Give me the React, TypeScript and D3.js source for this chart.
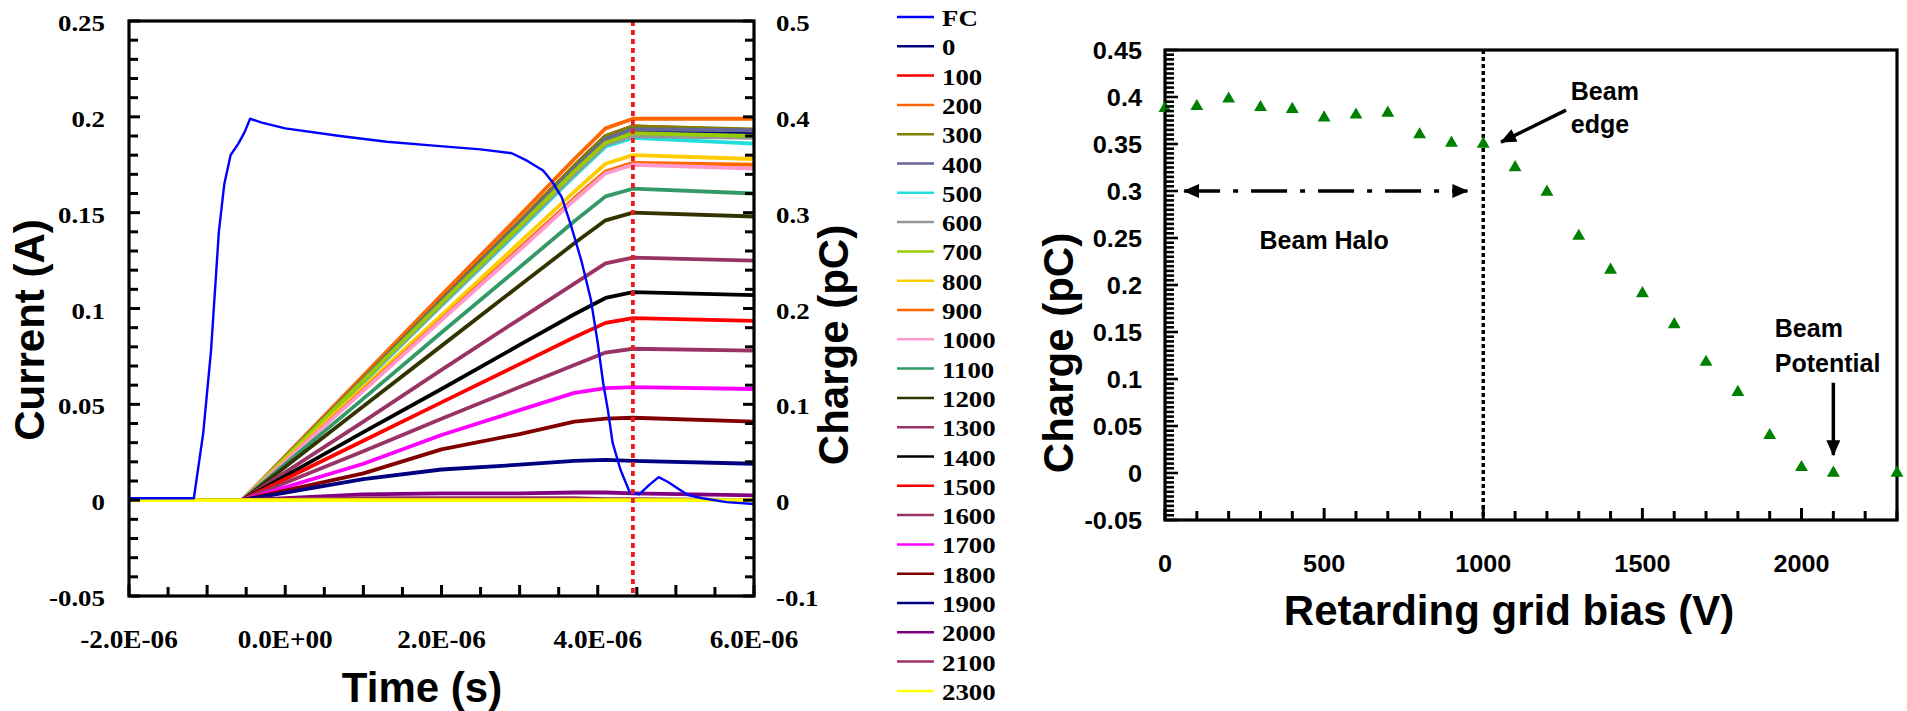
import React from "react";
import * as d3 from "d3";

const SERIF = "'Liberation Serif', 'Times New Roman', serif";
const SANS = "'Liberation Sans', Arial, sans-serif";

// ---------------- Left chart data (time in microseconds) ----------------
const fcTimeUs = [-2.0, -1.17, -1.05, -0.95, -0.85, -0.78, -0.7, -0.6, -0.52, -0.45, -0.3, 0.0, 0.7, 1.3, 1.9, 2.5, 2.9, 3.1, 3.3, 3.42, 3.54, 3.66, 3.79, 3.91, 4.0, 4.07, 4.13, 4.19, 4.29, 4.41, 4.53, 4.66, 4.78, 4.9, 5.03, 5.16, 5.34, 5.65, 6.0];
const fcCurrentA = [0.001, 0.001, 0.035, 0.078, 0.14, 0.165, 0.18, 0.186, 0.192, 0.199, 0.197, 0.194, 0.19, 0.187, 0.185, 0.183, 0.181, 0.177, 0.172, 0.166, 0.158, 0.143, 0.125, 0.105, 0.082, 0.061, 0.047, 0.03, 0.016, 0.004, 0.003, 0.008, 0.012, 0.0095, 0.006, 0.0026, 0.001, -0.001, -0.002];
const fcColor = "#0000ff";

const chargeTimeUs = [-2.0, -0.55, 1.0, 2.0, 3.0, 3.7, 4.1, 4.45, 6.0];
const seriesNames = ["0", "100", "200", "300", "400", "500", "600", "700", "800", "900", "1000", "1100", "1200", "1300", "1400", "1500", "1600", "1700", "1800", "1900", "2000", "2100", "2300"];
const seriesColors = ["#000080", "#ff0000", "#ff6600", "#808000", "#666699", "#22dddd", "#969696", "#99cc00", "#ffcc00", "#ff6600", "#ff99cc", "#339966", "#333300", "#993366", "#000000", "#ff0000", "#993366", "#ff00ff", "#800000", "#000080", "#800080", "#993366", "#ffff00"];
const chargePC: number[][] = [
  [0, 0, 0.126, 0.207, 0.288, 0.345, 0.376, 0.385, 0.382],
  [0, 0, 0.127, 0.209, 0.291, 0.349, 0.38, 0.39, 0.386],
  [0, 0, 0.13, 0.214, 0.297, 0.356, 0.388, 0.398, 0.398],
  [0, 0, 0.127, 0.209, 0.291, 0.349, 0.38, 0.39, 0.387],
  [0, 0, 0.126, 0.208, 0.289, 0.346, 0.377, 0.387, 0.386],
  [0, 0, 0.123, 0.203, 0.282, 0.338, 0.369, 0.378, 0.372],
  [0, 0, 0.124, 0.204, 0.284, 0.34, 0.371, 0.38, 0.378],
  [0, 0, 0.125, 0.206, 0.286, 0.343, 0.373, 0.383, 0.38],
  [0, 0, 0.118, 0.193, 0.269, 0.322, 0.351, 0.36, 0.356],
  [0, 0, 0.115, 0.189, 0.263, 0.315, 0.343, 0.352, 0.35],
  [0, 0, 0.114, 0.188, 0.261, 0.313, 0.341, 0.35, 0.346],
  [0, 0, 0.106, 0.175, 0.243, 0.291, 0.317, 0.325, 0.32],
  [0, 0, 0.098, 0.161, 0.224, 0.268, 0.292, 0.3, 0.296],
  [0, 0, 0.082, 0.136, 0.189, 0.226, 0.247, 0.253, 0.25],
  [0, 0, 0.071, 0.116, 0.162, 0.194, 0.211, 0.217, 0.214],
  [0, 0, 0.062, 0.102, 0.142, 0.17, 0.185, 0.19, 0.187],
  [0, 0, 0.051, 0.085, 0.118, 0.141, 0.154, 0.158, 0.156],
  [0, 0, 0.038, 0.068, 0.094, 0.112, 0.117, 0.118, 0.116],
  [0, 0, 0.028, 0.053, 0.069, 0.082, 0.085, 0.086, 0.082],
  [0, 0, 0.022, 0.032, 0.037, 0.041, 0.042, 0.041, 0.038],
  [0, 0, 0.006, 0.007, 0.007, 0.008, 0.008, 0.007, 0.005],
  [0, 0, 0.002, 0.002, 0.002, 0.002, 0.001, 0.001, 0],
  [0, 0, 0, 0, 0, 0, 0, 0, 0],
];
const markerTimeUs = 4.45;

const currentTickVals = [-0.05, 0, 0.05, 0.1, 0.15, 0.2, 0.25];
const currentTickLabels = ["-0.05", "0", "0.05", "0.1", "0.15", "0.2", "0.25"];
const chargeTickVals = [-0.1, 0, 0.1, 0.2, 0.3, 0.4, 0.5];
const chargeTickLabels = ["-0.1", "0", "0.1", "0.2", "0.3", "0.4", "0.5"];
const timeTickVals = [-2, 0, 2, 4, 6];
const timeTickLabels = ["-2.0E-06", "0.0E+00", "2.0E-06", "4.0E-06", "6.0E-06"];
const currentMinorTicks = d3.range(0, 31).map((i) => -0.05 + i * 0.01);
const timeMinorTicks = d3.range(0, 17).map((i) => -2 + i * 0.5);

// ---------------- Right chart data ----------------
const biasV = [0, 100, 200, 300, 400, 500, 600, 700, 800, 900, 1000, 1100, 1200, 1300, 1400, 1500, 1600, 1700, 1800, 1900, 2000, 2100, 2300];
const chargeAtEdge = [0.388, 0.39, 0.398, 0.389, 0.387, 0.378, 0.381, 0.383, 0.36, 0.351, 0.35, 0.325, 0.299, 0.252, 0.216, 0.191, 0.158, 0.118, 0.086, 0.04, 0.006, 0, 0];
const biasTickVals = [0, 500, 1000, 1500, 2000];
const biasTickLabels = ["0", "500", "1000", "1500", "2000"];
const rChargeTickVals = [-0.05, 0, 0.05, 0.1, 0.15, 0.2, 0.25, 0.3, 0.35, 0.4, 0.45];
const rChargeTickLabels = ["-0.05", "0", "0.05", "0.1", "0.15", "0.2", "0.25", "0.3", "0.35", "0.4", "0.45"];
const rChargeMinorTicks = d3.range(0, 101).map((i) => -0.05 + i * 0.005);
const biasMinorTicks = d3.range(0, 24).map((i) => i * 100);

function SText(props: any) {
  const { x, y, sx = 1, anchor = "start", size, family, weight = "bold", baseline = "central", rotate = 0, children } = props;
  return (
    <text
      transform={`translate(${x},${y}) rotate(${rotate}) scale(${sx},1)`}
      textAnchor={anchor}
      dominantBaseline={baseline}
      fontSize={size}
      fontFamily={family}
      fontWeight={weight}
      fill="#000"
    >
      {children}
    </text>
  );
}

export default function App() {
  const W = 1907, H = 711;
  const L = { left: 129, right: 754, top: 21, bottom: 596 };
  const xT = d3.scaleLinear().domain([-2, 6]).range([L.left, L.right]);
  const yI = d3.scaleLinear().domain([-0.05, 0.25]).range([L.bottom, L.top]);
  const yQ = d3.scaleLinear().domain([-0.1, 0.5]).range([L.bottom, L.top]);

  const R = { left: 1165, right: 1897, top: 50, bottom: 520 };
  const xV = d3.scaleLinear().domain([0, 2300]).range([R.left, R.right]);
  const yC = d3.scaleLinear().domain([-0.05, 0.45]).range([R.bottom, R.top]);

  const fcLine = d3.line<number>().x((_, i) => xT(fcTimeUs[i])).y((d) => yI(d));
  const qLine = d3.line<number>().x((_, i) => xT(chargeTimeUs[i])).y((d) => yQ(d));

  const tri = d3.symbol().type(d3.symbolTriangle).size(72)();

  const legendNames = ["FC", ...seriesNames];
  const legendColors = [fcColor, ...seriesColors];

  return (
    <svg width={W} height={H} style={{ position: "absolute", left: 0, top: 0, background: "#fff" }}>
      <defs>
        <clipPath id="clipL">
          <rect x={L.left} y={L.top} width={L.right - L.left} height={L.bottom - L.top} />
        </clipPath>
        <marker id="ah" markerUnits="userSpaceOnUse" markerWidth={16} markerHeight={14} refX={15} refY={7} orient="auto-start-reverse">
          <path d="M0,0 L16,7 L0,14 Z" fill="#000" />
        </marker>
      </defs>

      {/* ================= LEFT CHART ================= */}
      <g clipPath="url(#clipL)">
        {chargePC.map((vals, si) => (
          <path key={si} d={qLine(vals) || ""} fill="none" stroke={seriesColors[si]} strokeWidth={3.8} strokeLinejoin="round" />
        ))}
        <path d={fcLine(fcCurrentA) || ""} fill="none" stroke={fcColor} strokeWidth={2.4} strokeLinejoin="round" />
      </g>
      <line x1={xT(markerTimeUs)} x2={xT(markerTimeUs)} y1={L.top} y2={L.bottom} stroke="#ee1c1c" strokeWidth={3.8} strokeDasharray="5,4" />

      <rect x={L.left} y={L.top} width={L.right - L.left} height={L.bottom - L.top} fill="none" stroke="#000" strokeWidth={3.2} />

      {currentTickVals.map((v, i) => (
        <SText key={"cl" + i} x={105} y={yI(v) + 2} anchor="end" size={24} family={SERIF} sx={1.12}>{currentTickLabels[i]}</SText>
      ))}
      {chargeTickVals.map((v, i) => (
        <SText key={"ql" + i} x={776} y={yQ(v) + 2} anchor="start" size={24} family={SERIF} sx={1.12}>{chargeTickLabels[i]}</SText>
      ))}
      {timeTickVals.map((v, i) => (
        <SText key={"tl" + i} x={xT(v)} y={640} anchor="middle" size={25} family={SERIF} sx={1.09}>{timeTickLabels[i]}</SText>
      ))}

      <SText x={44} y={330} rotate={-90} anchor="middle" baseline="alphabetic" size={42} family={SANS}>Current (A)</SText>
      <SText x={848} y={345} rotate={-90} anchor="middle" baseline="alphabetic" size={42} family={SANS}>Charge (pC)</SText>
      <SText x={422} y={702} anchor="middle" baseline="alphabetic" size={42} family={SANS}>Time (s)</SText>

      {/* legend */}
      {legendNames.map((n, i) => {
        const y = 17 + i * 29.3;
        return (
          <g key={"lg" + i}>
            <line x1={897} x2={934} y1={y} y2={y} stroke={legendColors[i]} strokeWidth={2.5} />
            <SText x={942} y={y + 1} size={24} family={SERIF} sx={1.12}>{n}</SText>
          </g>
        );
      })}

      {/* ================= RIGHT CHART ================= */}
      <rect x={R.left} y={R.top} width={R.right - R.left} height={R.bottom - R.top} fill="none" stroke="#000" strokeWidth={3.2} />
      <line x1={xV(1000)} x2={xV(1000)} y1={R.top} y2={R.bottom} stroke="#000" strokeWidth={3.5} strokeDasharray="4,3" />

      {rChargeTickVals.map((v, i) => (
        <SText key={"rcl" + i} x={1142} y={yC(v) + 1} anchor="end" size={23} family={SANS} sx={1.1}>{rChargeTickLabels[i]}</SText>
      ))}
      {biasTickVals.map((v, i) => (
        <SText key={"bl" + i} x={xV(v)} y={564} anchor="middle" size={24} family={SANS} sx={1.05}>{biasTickLabels[i]}</SText>
      ))}
      <SText x={1073} y={353} rotate={-90} anchor="middle" baseline="alphabetic" size={42} family={SANS}>Charge (pC)</SText>
      <SText x={1509} y={625} anchor="middle" baseline="alphabetic" size={42} family={SANS}>Retarding grid bias (V)</SText>

      {/* annotations */}
      <line x1={xV(60)} x2={xV(950)} y1={yC(0.3)} y2={yC(0.3)} stroke="#000" strokeWidth={3.5} strokeDasharray="36,13,5,13" markerStart="url(#ah)" markerEnd="url(#ah)" />
      <SText x={xV(500)} y={yC(0.238)} anchor="middle" baseline="alphabetic" size={25} family={SANS}>Beam Halo</SText>

      <line x1={xV(1260)} y1={yC(0.386)} x2={xV(1056)} y2={yC(0.352)} stroke="#000" strokeWidth={3.5} markerEnd="url(#ah)" />
      <SText x={xV(1275)} y={yC(0.397)} baseline="alphabetic" size={25} family={SANS}>Beam</SText>
      <SText x={xV(1275)} y={yC(0.362)} baseline="alphabetic" size={25} family={SANS}>edge</SText>

      <line x1={xV(2100)} y1={yC(0.096)} x2={xV(2100)} y2={yC(0.019)} stroke="#000" strokeWidth={3.5} markerEnd="url(#ah)" />
      <SText x={xV(1916)} y={yC(0.145)} baseline="alphabetic" size={25} family={SANS}>Beam</SText>
      <SText x={xV(1916)} y={yC(0.107)} baseline="alphabetic" size={25} family={SANS}>Potential</SText>

      {biasV.map((v, i) => (
        <path key={"pt" + i} d={tri || ""} transform={`translate(${xV(v)},${yC(chargeAtEdge[i])})`} fill="#008000" />
      ))}

      {/* ===== tick marks, drawn last so nothing covers them ===== */}
      {currentMinorTicks.map((v, i) => (
        <line key={"ltl" + i} x1={L.left} x2={L.left + (i % 5 === 0 ? 11 : 9)} y1={yI(v)} y2={yI(v)} stroke="#000" strokeWidth={3} />
      ))}
      {currentMinorTicks.map((v, i) => (
        <line key={"ltr" + i} x1={L.right} x2={L.right - (i % 5 === 0 ? 11 : 9)} y1={yI(v)} y2={yI(v)} stroke="#000" strokeWidth={3} />
      ))}
      {timeMinorTicks.map((v, i) => (
        <line key={"bt" + i} x1={xT(v)} x2={xT(v)} y1={L.bottom} y2={L.bottom - (i % 2 === 0 ? 11 : 9)} stroke="#000" strokeWidth={3} />
      ))}
      {rChargeMinorTicks.map((v, i) => (
        <line key={"rl" + i} x1={R.left} x2={R.left + (i % 10 === 0 ? 13 : 9)} y1={yC(v)} y2={yC(v)} stroke="#000" strokeWidth={2.6} />
      ))}
      {biasMinorTicks.map((v, i) => (
        <line key={"rb" + i} x1={xV(v)} x2={xV(v)} y1={R.bottom} y2={R.bottom - (i % 5 === 0 ? 12 : 9)} stroke="#000" strokeWidth={3} />
      ))}
    </svg>
  );
}
